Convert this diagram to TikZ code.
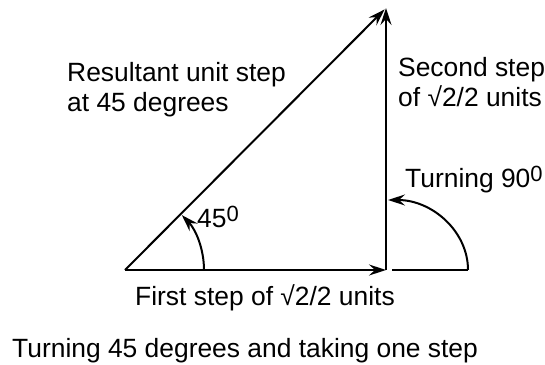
\documentclass[tikz,border=0pt]{standalone}
\usepackage{fontspec}
\setmainfont{Liberation Sans}
\usepackage{tikz}
\usetikzlibrary{arrows.meta}
\tikzstyle{stepline} = [line width=2pt, -{Stealth[length=17pt, width=11pt, inset=6pt]}]
\tikzstyle{plainline} = [line width=2pt]
\tikzstyle{lbl} = [anchor=base west, inner sep=0pt, align=left, font=\fontsize{26.4}{30}\selectfont]
\newcommand{\degsup}[1]{\raisebox{6pt}{\fontsize{22}{26}\selectfont #1}}

\begin{document}
\begin{tikzpicture}[x=1pt, y=1pt]
    \useasboundingbox (0,0) rectangle (545,364);
    \coordinate (o) at (125,94);
    \coordinate (b) at (386,94);
    \coordinate (c) at (386,356);
    \coordinate (e) at (392,94);
    \coordinate (d) at (468,94);
    \coordinate (r) at (204,94);
    \draw [stepline] (o) -- (b);
    \draw [stepline] (b) -- (c);
    \draw [stepline, shorten >=2pt] (o) -- (c);
    \draw [plainline] (e) -- (d);
    \draw [stepline] (d) arc [start angle=0, end angle=90, x radius=80, y radius=70];
    \draw [stepline] (r) arc [start angle=0, end angle=44, radius=79];
    \node [lbl] (res) at (67,252) {Resultant unit step\\at 45 degrees};
    \node [lbl] (sec) at (398,257) {Second step\\of \char"221A 2/2 units};
    \node [lbl] (turn) at (405,176) {Turning 90\degsup{0}};
    \node [lbl] (ang) at (197,136) {45\degsup{0}};
    \node [lbl] (fst) at (135,59) {First step of \char"221A 2/2 units};
    \node [lbl] (cap) at (12,7) {Turning 45 degrees and taking one step};
\end{tikzpicture}
\end{document}
